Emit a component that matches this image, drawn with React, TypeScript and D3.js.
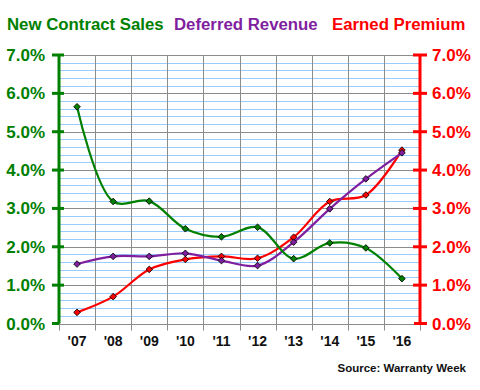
import { useEffect, useRef } from 'react';
import * as d3 from 'd3';

const years = ["'07", "'08", "'09", "'10", "'11", "'12", "'13", "'14", "'15", "'16"];
const newContractSales = [5.65, 3.18, 3.19, 2.47, 2.26, 2.51, 1.69, 2.1, 1.97, 1.17];
const deferredRevenue = [1.55, 1.75, 1.75, 1.83, 1.64, 1.51, 2.12, 2.99, 3.77, 4.45];
const earnedPremium = [0.29, 0.7, 1.41, 1.67, 1.75, 1.7, 2.25, 3.18, 3.35, 4.52];
const yTicks = [0, 1, 2, 3, 4, 5, 6, 7];

const GREEN = '#008000';
const PURPLE = '#7F1F9F';
const RED = '#FF0000';

export default function App() {
  const svgRef = useRef<SVGSVGElement>(null);

  useEffect(() => {
    if (!svgRef.current) return;
    const svg = d3.select(svgRef.current);
    svg.selectAll('*').remove();

    const left = 59, right = 420, top = 55, bottom = 323.5;
    const font = 'Arial, "Liberation Sans", sans-serif';

    const x = d3.scaleBand().domain(years).range([left, right]);
    const y = d3.scaleLinear().domain([0, 7]).range([bottom, top]);

    // minor gridlines (light blue) every 0.2%
    const minor = d3.range(0, 7.01, 0.2).filter(v => Math.abs(v - Math.round(v)) > 0.01);
    svg.append('g').selectAll('line').data(minor).join('line')
      .attr('x1', left).attr('x2', right)
      .attr('y1', d => Math.round(y(d)) + 0.5).attr('y2', d => Math.round(y(d)) + 0.5)
      .attr('stroke', '#99CCFF').attr('stroke-width', 1);

    // major gridlines (gray)
    svg.append('g').selectAll('line').data(yTicks).join('line')
      .attr('x1', left).attr('x2', right)
      .attr('y1', d => Math.round(y(d)) + 0.5).attr('y2', d => Math.round(y(d)) + 0.5)
      .attr('stroke', '#8C8C8C').attr('stroke-width', 1);

    // vertical gridlines at category boundaries
    const bounds = years.map(d => x(d)!).concat([right]);
    svg.append('g').selectAll('line').data(bounds).join('line')
      .attr('x1', d => Math.round(d) + 0.5).attr('x2', d => Math.round(d) + 0.5)
      .attr('y1', top).attr('y2', bottom + 7)
      .attr('stroke', '#8C8C8C').attr('stroke-width', 1);

    // left axis
    svg.append('line')
      .attr('x1', left).attr('x2', left).attr('y1', top).attr('y2', bottom)
      .attr('stroke', GREEN).attr('stroke-width', 3);
    svg.append('g').selectAll('line').data(yTicks).join('line')
      .attr('x1', left - 7).attr('x2', d => (d === 0 ? left : left + 5))
      .attr('y1', d => y(d)).attr('y2', d => y(d))
      .attr('stroke', GREEN).attr('stroke-width', 3);
    svg.append('g').selectAll('text').data(yTicks).join('text')
      .attr('x', 45).attr('y', d => y(d) + 6)
      .attr('text-anchor', 'end')
      .attr('fill', GREEN).attr('font-family', font).attr('font-weight', 'bold').attr('font-size', 17)
      .text(d => d.toFixed(1) + '%');

    // right axis
    svg.append('line')
      .attr('x1', right).attr('x2', right).attr('y1', top).attr('y2', bottom)
      .attr('stroke', RED).attr('stroke-width', 3);
    svg.append('g').selectAll('line').data(yTicks).join('line')
      .attr('x1', d => (d === 0 ? right - 6 : right - 7)).attr('x2', right + 7)
      .attr('y1', d => y(d)).attr('y2', d => y(d))
      .attr('stroke', RED).attr('stroke-width', 3);
    svg.append('g').selectAll('text').data(yTicks).join('text')
      .attr('x', 432).attr('y', d => y(d) + 6)
      .attr('fill', RED).attr('font-family', font).attr('font-weight', 'bold').attr('font-size', 17)
      .text(d => d.toFixed(1) + '%');

    // x labels
    svg.append('g').selectAll('text').data(years).join('text')
      .attr('x', d => x(d)! + x.bandwidth() / 2).attr('y', 346)
      .attr('text-anchor', 'middle')
      .attr('fill', '#111').attr('font-family', font).attr('font-weight', 'bold').attr('font-size', 14)
      .text(d => d);

    const series = [
      { values: earnedPremium, color: RED },
      { values: deferredRevenue, color: PURPLE },
      { values: newContractSales, color: GREEN },
    ];
    const line = d3.line<number>()
      .x((_, i) => x(years[i])! + x.bandwidth() / 2)
      .y(d => y(d))
      .curve(d3.curveCatmullRom.alpha(0.5));
    const marker = d3.symbol().type(d3.symbolSquare).size(22);

    series.forEach(s => {
      svg.append('path')
        .attr('d', line(s.values))
        .attr('fill', 'none').attr('stroke', s.color).attr('stroke-width', 2.2);
      svg.append('g').selectAll('path').data(s.values).join('path')
        .attr('transform', (d, i) => `translate(${x(years[i])! + x.bandwidth() / 2},${y(d)}) rotate(45)`)
        .attr('d', marker())
        .attr('fill', s.color).attr('stroke', '#000').attr('stroke-width', 0.8);
    });

    // legend titles
    const legend = [
      { label: 'New Contract Sales', color: GREEN, x: 7 },
      { label: 'Deferred Revenue', color: PURPLE, x: 174 },
      { label: 'Earned Premium', color: RED, x: 332 },
    ];
    svg.append('g').selectAll('text').data(legend).join('text')
      .attr('x', d => d.x).attr('y', 30)
      .attr('fill', d => d.color).attr('font-family', font).attr('font-weight', 'bold').attr('font-size', 16.8)
      .text(d => d.label);

    svg.append('text')
      .attr('x', 466).attr('y', 372)
      .attr('text-anchor', 'end')
      .attr('fill', '#111').attr('font-family', font).attr('font-weight', 'bold').attr('font-size', 11.5)
      .text('Source: Warranty Week');
  }, []);

  return (
    <svg ref={svgRef} width={480} height={390}
      style={{ position: 'absolute', left: 0, top: 0, background: '#fff' }} />
  );
}
